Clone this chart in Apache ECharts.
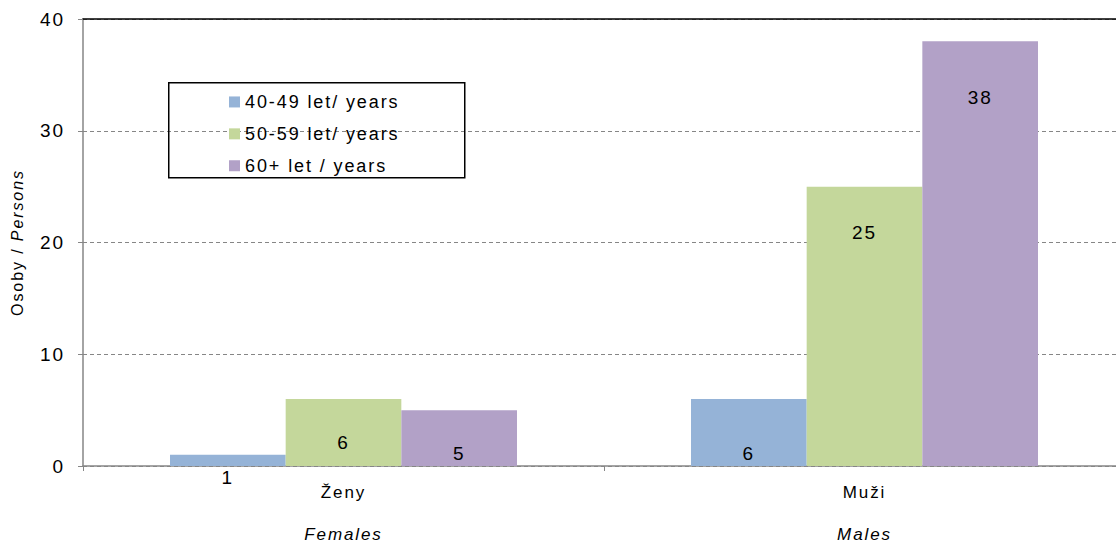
<!DOCTYPE html>
<html>
<head>
<meta charset="utf-8">
<script src="https://cdn.jsdelivr.net/npm/echarts@6/dist/echarts.min.js"></script>
<style>html,body{margin:0;padding:0;background:#fff}#c{width:1116px;height:545px}#c text,#c tspan{letter-spacing:1.9px}</style>
</head>
<body>
<div id="c"></div>
<script>
const categoriesCz = ['Ženy', 'Muži'];
const categoriesEn = ['Females', 'Males'];
const seriesNames = ['40-49 let/ years', '50-59 let/ years', '60+ let / years'];
const values4049 = [1, 6];
const values5059 = [6, 25];
const values60 = [5, 38];
const yTicks = [0, 10, 20, 30, 40];

const FONT = "'Liberation Sans', Arial, sans-serif";
const LS = 1.9;
const colors = ['#95B3D7', '#C4D79B', '#B2A1C7'];
const labelDist = [[12, 44], [33, 35], [33, 46]];
const allValues = [values4049, values5059, values60];

const mctx = document.createElement('canvas').getContext('2d');
echarts.setPlatformAPI({
  measureText: function (text, font) {
    mctx.font = font || '12px sans-serif';
    const s = String(text == null ? '' : text);
    return { width: mctx.measureText(s).width + LS * Array.from(s).length };
  }
});

const chart = echarts.init(document.getElementById('c'), null, { renderer: 'svg' });
chart.setOption({
  animation: false,
  textStyle: { fontFamily: FONT },
  grid: { left: 83, top: 19, right: -9, bottom: 79, containLabel: false, outerBoundsMode: 'none' },
  legend: {
    orient: 'vertical', left: 224, top: 87,
    itemWidth: 11, itemHeight: 11, itemGap: 12,
    icon: 'rect',
    textStyle: { fontSize: 18, lineHeight: 18, color: '#000', fontFamily: FONT },
    data: seriesNames
  },
  graphic: [{
    type: 'rect', left: 168, top: 82, z: 5,
    shape: { width: 296, height: 95 },
    style: { fill: 'transparent', stroke: '#000', lineWidth: 1.5 }
  }],
  xAxis: [{
    type: 'category', data: categoriesCz,
    axisLine: { lineStyle: { color: '#868686', width: 1.5 } },
    axisTick: { show: true, length: 5, lineStyle: { color: '#868686' } },
    axisLabel: {
      margin: 5,
      formatter: (v, i) => '{a|' + categoriesCz[i] + '}\n{b|' + categoriesEn[i] + '}',
      rich: {
        a: { fontSize: 17, lineHeight: 42, color: '#000', fontFamily: FONT },
        b: { fontSize: 17, lineHeight: 42, color: '#000', fontStyle: 'italic', fontFamily: FONT }
      }
    }
  }, {
    type: 'category', data: categoriesCz, position: 'top',
    axisLine: { show: true, lineStyle: { color: '#000', width: 1.5 } },
    axisTick: { show: false }, axisLabel: { show: false }
  }],
  yAxis: {
    type: 'value', min: yTicks[0], max: yTicks[yTicks.length - 1], interval: 10,
    name: '{a|Osoby / }{b|Persons}',
    nameLocation: 'middle', nameRotate: 90, nameGap: 57,
    nameTextStyle: {
      rich: {
        a: { fontSize: 16, color: '#000', fontFamily: FONT },
        b: { fontSize: 16, color: '#000', fontStyle: 'italic', fontFamily: FONT }
      }
    },
    axisLine: { show: true, lineStyle: { color: '#868686', width: 1.5 } },
    axisTick: { show: true, length: 5, lineStyle: { color: '#868686' } },
    axisLabel: { fontSize: 19, color: '#000', margin: 18, fontFamily: FONT },
    splitLine: { lineStyle: { color: '#868686', type: [4, 3] } }
  },
  series: seriesNames.map((name, s) => ({
    name, type: 'bar', barGap: 0, barCategoryGap: '33.4%',
    itemStyle: { color: colors[s] },
    data: allValues[s].map((v, i) => ({
      value: v,
      label: { show: true, position: 'insideTop', distance: labelDist[s][i], fontSize: 19, color: '#000', fontFamily: FONT }
    }))
  }))
});
</script>
</body>
</html>
